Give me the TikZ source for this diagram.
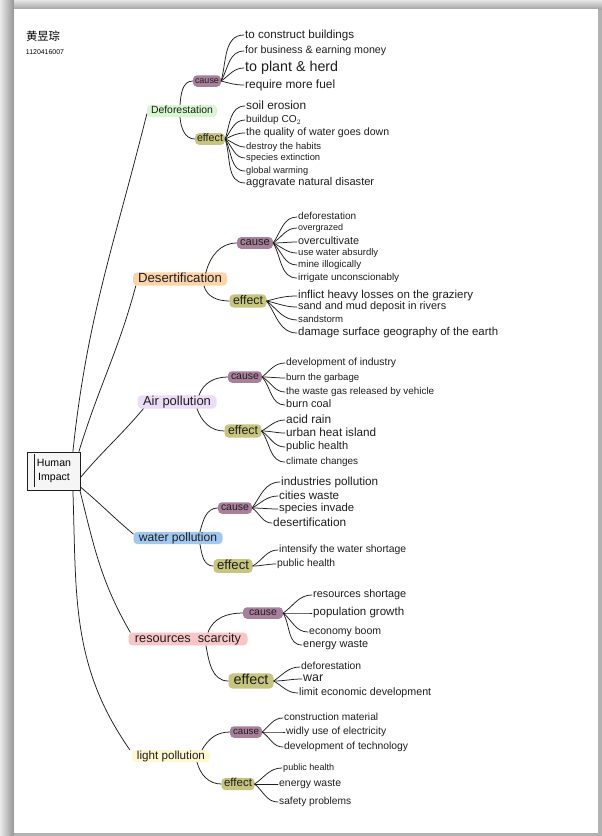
\documentclass[tikz,border=0pt]{standalone}
\usepackage{graphicx}
\usepackage{fontspec}
\setmainfont{Liberation Sans}
\newfontfamily\cjk{Noto Sans CJK SC}
\definecolor{causecol}{HTML}{A9809C}
\definecolor{effectcol}{HTML}{C6C47E}
\definecolor{defcol}{HTML}{D8F6D2}
\definecolor{descol}{HTML}{FCD4AA}
\definecolor{aircol}{HTML}{EDDCF8}
\definecolor{watcol}{HTML}{A0C8F0}
\definecolor{rescol}{HTML}{F9C6C8}
\definecolor{ligcol}{HTML}{FDF8D0}
\definecolor{inkcol}{HTML}{1E1E1E}
\newcommand{\fw}[2]{\resizebox{#1pt}{!}{\vphantom{Ag}#2}}
\newcommand{\mkleaves}[3]{%
  \foreach \lx/\ly/\lo/\lw/\lt [count=\lk] in {#3}{%
    \node[leaf] (#2\lk) at (\lx,\ly) {\fw{\lw}{\lt}};
    \draw[link] (#1.east) to[out=\lo,in=180] (#2\lk.west);
  }}
\begin{document}
\begin{tikzpicture}[x=1pt,y=-1pt,
  topic/.style={rounded corners=4pt, inner xsep=4pt, inner ysep=0.5pt, minimum height=12pt, text=inkcol},
  causebox/.style={fill=causecol, rounded corners=4pt, inner xsep=2pt, inner ysep=0.8pt, minimum height=11.5pt, text=inkcol},
  effectbox/.style={fill=effectcol, rounded corners=4pt, inner xsep=2pt, inner ysep=0.8pt, minimum height=11.5pt, text=inkcol},
  leaf/.style={anchor=west, inner xsep=1pt, inner ysep=0pt, text=inkcol},
  link/.style={draw=inkcol, line width=0.75pt, line cap=round},
]
\useasboundingbox (0,0) rectangle (602,836);
% paper and its shadow
\fill[black!30] (0,0) rectangle (602,836);
\shade[left color=black!8, right color=black!42] (0,0) rectangle (14,836);
\shade[top color=black!10, bottom color=black!35] (14,0) rectangle (602,9);
\fill[white] (14,9) rectangle (598,833);

% name
\node (nm) at (43,37) {\fw{34}{\cjk 黄昱琮}};
\node (num) at (45,53) {\fw{38}{1120416007}};

% central box
\node[draw=inkcol, line width=0.8pt, fill=black!4, minimum width=53pt, minimum height=38pt, inner sep=0pt] (hi) at (54,471)
  {\resizebox{34pt}{!}{\begin{tabular}{@{}c@{}}Human\\[2pt]Impact\end{tabular}}};
\draw[inkcol, line width=0.7pt] ([xshift=7pt,yshift=-2pt]hi.north west) -- ([xshift=7pt,yshift=3pt]hi.south west);

% topics
\node[topic, fill=defcol, minimum width=70pt] (def) at (182,111) {\fw{62}{Deforestation}};
\node[causebox, minimum width=28pt] (defc) at (207,81) {\fw{24}{cause}};
\node[effectbox, minimum width=30pt] (defe) at (210,139) {\fw{26}{effect}};

\node[topic, fill=descol, minimum width=94pt] (des) at (180,279) {\fw{84}{Desertification}};
\node[causebox, minimum width=36pt] (desc) at (255,243) {\fw{30}{cause}};
\node[effectbox, minimum width=37pt] (dese) at (248,301) {\fw{30}{effect}};

\node[topic, fill=aircol, minimum width=79pt] (air) at (177,402) {\fw{68}{Air pollution}};
\node[causebox, minimum width=34pt] (airc) at (245,377) {\fw{28}{cause}};
\node[effectbox, minimum width=37pt] (aire) at (243,431) {\fw{30}{effect}};

\node[topic, fill=watcol, minimum width=89pt] (wat) at (178,538) {\fw{78}{water pollution}};
\node[causebox, minimum width=34pt] (watc) at (235,508) {\fw{28}{cause}};
\node[effectbox, minimum width=39pt] (wate) at (233,566) {\fw{32}{effect}};

\node[topic, fill=rescol, minimum width=119pt] (res) at (188,639) {\fw{106}{resources\ \ scarcity}};
\node[causebox, minimum width=40pt] (resc) at (263,613) {\fw{28}{cause}};
\node[effectbox, minimum width=45pt] (rese) at (251,681) {\fw{35}{effect}};

\node[topic, fill=ligcol, minimum width=78pt] (lig) at (171,756) {\fw{68}{light pollution}};
\node[causebox, minimum width=32pt] (ligc) at (246,732) {\fw{26}{cause}};
\node[effectbox, minimum width=33pt] (lige) at (238,784) {\fw{28}{effect}};

% main branches
\draw[link] ([xshift=-8pt]hi.north east) to[out=84,in=-104] ([yshift=-3pt]def.west);
\draw[link] ([xshift=-2pt]hi.north east) to[out=73,in=-105] ([xshift=3pt]des.south west);
\draw[link] ([yshift=-6pt]hi.east) to[out=50,in=-130] ([xshift=6pt]air.south west);
\draw[link] ([yshift=3pt]hi.south east) to[out=-40,in=140] ([yshift=4pt]wat.west);
\draw[link] ([xshift=-1pt]hi.south east) to[out=-76,in=120] ([xshift=2pt]res.north west);
\draw[link] ([xshift=-8pt]hi.south east) to[out=-88,in=125] ([xshift=-2pt]lig.north west);

% topic to cause / effect
\draw[link] ([xshift=-2pt]def.north) to[out=85,in=180] (defc.west);
\draw[link] ([xshift=-2pt]def.south) to[out=-85,in=180] (defe.west);
\draw[link] ([xshift=26pt]des.north) to[out=75,in=180] (desc.west);
\draw[link] ([xshift=24pt]des.south) to[out=-75,in=180] (dese.west);
\draw[link] ([xshift=22pt]air.north) to[out=70,in=180] (airc.west);
\draw[link] ([xshift=20pt]air.south) to[out=-70,in=180] (aire.west);
\draw[link] ([xshift=22pt]wat.north) to[out=75,in=180] (watc.west);
\draw[link] ([xshift=22pt]wat.south) to[out=-80,in=180] (wate.west);
\draw[link] ([xshift=20pt]res.north) to[out=70,in=180] (resc.west);
\draw[link] ([xshift=18pt]res.south) to[out=-80,in=180] (rese.west);
\draw[link] ([xshift=31pt]lig.north) to[out=60,in=180] (ligc.west);
\draw[link] ([xshift=26pt]lig.south) to[out=-75,in=180] (lige.west);

% leaves
\mkleaves{defc}{dc}{244/35/75/109/to construct buildings,
  244/51/62/141/for business \& earning money,
  244/68/35/93/to plant \& herd,
  244/85/-15/90/require more fuel}
\mkleaves{defe}{de}{245/106/72/60/soil erosion,
  245/120/55/55/buildup CO$_2$,
  245/133/25/143/the quality of water goes down,
  245/147/-20/75/destroy the habits,
  245/158/-45/74/species extinction,
  245/171/-62/62/global warming,
  245/183/-72/128/aggravate natural disaster}
\mkleaves{desc}{sc}{297/217/55/58/deforestation,
  297/228/35/45/overgrazed,
  297/242/0/61/overcultivate,
  297/253/-25/80/use water absurdly,
  297/265/-45/63/mine illogically,
  297/278/-60/101/irrigate unconscionably}
\mkleaves{dese}{se}{297/296/15/175/inflict heavy losses on the graziery,
  297/307/-12/148/sand and mud deposit in rivers,
  297/320/-38/45/sandstorm,
  297/333/-55/200/damage surface geography of the earth}
\mkleaves{airc}{ac}{285/363/40/110/development of industry,
  285/378/0/73/burn the garbage,
  285/392/-30/148/the waste gas released by vehicle,
  285/405/-50/45/burn coal}
\mkleaves{aire}{ae}{285/420/30/45/acid rain,
  285/433/0/90/urban heat island,
  285/447/-35/62/public health,
  285/462/-55/72/climate changes}
\mkleaves{watc}{wc}{280/482/55/97/industries pollution,
  278/496/30/60/cities waste,
  278/509/0/75/species invade,
  272/523/-35/73/desertification}
\mkleaves{wate}{we}{278/550/30/127/intensify the water shortage,
  276/564/0/58/public health}
\mkleaves{resc}{rc}{312/595/35/93/resources shortage,
  312/613/0/91/population growth,
  308/632/-40/72/economy boom,
  302/645/-60/65/energy waste}
\mkleaves{rese}{re}{300/667/35/60/deforestation,
  302/679/0/20/war,
  298/693/-30/132/limit economic development}
\mkleaves{ligc}{lc}{283/718/40/94/construction material,
  285/732/0/100/widly use of electricity,
  283/747/-35/124/development of technology}
\mkleaves{lige}{le}{282/768/35/51/public health,
  278/784/0/62/energy waste,
  278/802/-40/72/safety problems}
\end{tikzpicture}
\end{document}
